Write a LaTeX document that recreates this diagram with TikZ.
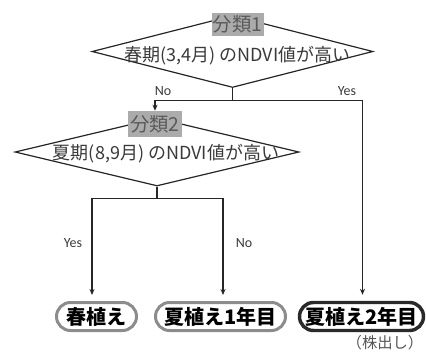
\documentclass[tikz,border=0pt]{standalone}
\usepackage{fontspec}
\setmainfont{Noto Sans CJK JP}
\newfontfamily\latf{Carlito}
\usetikzlibrary{shapes.geometric,arrows.meta,calc}
\definecolor{linec}{HTML}{262626}
\definecolor{taggray}{HTML}{ABABAB}
\definecolor{tagtext}{HTML}{5A5A5A}
\definecolor{condtext}{HTML}{3A3A3A}
\definecolor{resgray}{HTML}{8C8C8C}
\definecolor{resdark}{HTML}{2A2A2A}
\definecolor{subtext}{HTML}{555555}
\begin{document}
\begin{tikzpicture}[x=0.75pt,y=-0.75pt,
  dia/.style={draw=linec, line width=0.9pt, shape=diamond, inner sep=0pt, fill=white},
  tag/.style={fill=taggray, text=tagtext, inner sep=0pt, font=\fontsize{14.5}{16}\selectfont},
  cond/.style={text=condtext, inner sep=0pt, font=\fontsize{13.5}{15}\selectfont},
  res/.style={draw=resgray, line width=2.25pt, rounded corners=10.5pt, minimum height=21pt, inner sep=0pt, fill=white, font=\bfseries\fontsize{15}{17}\selectfont},
  conn/.style={draw=linec, line width=0.9pt},
  arr/.style={conn, -{Stealth[length=4.5pt,width=3.75pt]}},
  yn/.style={text=condtext, inner sep=0pt, font=\latf\fontsize{10.5}{12}\selectfont}]
\useasboundingbox (0,0) rectangle (426,351);
% decisions
\node[dia, minimum width=210.75pt, minimum height=54pt] (d1) at (232.5,51.5) {};
\node[cond] (t1) at (237.5,56) {春期(3,4月) のNDVI値が高い};
\node[tag, minimum width=39pt, minimum height=17.25pt] (lab1) at (237.5,24) {分類1};
\node[dia, minimum width=213pt, minimum height=51pt] (d2) at (157,152) {};
\node[cond] (t2) at (166,154) {夏期(8,9月) のNDVI値が高い};
\node[tag, minimum width=40.5pt, minimum height=19.5pt] (lab2) at (155,124) {分類2};
% results
\node[res, minimum width=60pt] (b1) at (96.5,316.5) {春植え};
\node[res, minimum width=97.5pt] (b2) at (220.5,316.5) {夏植え1年目};
\node[res, draw=resdark, line width=2.6pt, minimum width=93pt] (b3) at (361.5,316.5) {夏植え2年目};
\node[text=subtext, inner sep=0pt, font=\fontsize{11.5}{13}\selectfont] (sub) at (385,343) {（株出し）};
% connectors
\coordinate (j1) at ($(d1.south)+(0,12)$);
\coordinate (j2) at ($(d2.south)+(0,12)$);
\draw[conn] (d1.south) -- (j1);
\draw[arr] (j1) -| (lab2.north);
\draw[arr, shorten >=4.5pt] (j1) -| ($(b3.north)+(1,0)$);
\draw[conn] (d2.south) -- (j2);
\draw[arr, shorten >=4.5pt] (j2) -| ($(b1.north)+(-4.5,0)$);
\draw[arr, shorten >=4.5pt] (j2) -| ($(b2.north)+(2.5,0)$);
% branch labels
\node[yn] (no1) at (163,91) {No};
\node[yn] (yes1) at (347,91) {Yes};
\node[yn] (yes2) at (73,243) {Yes};
\node[yn] (no2) at (244,243) {No};
\end{tikzpicture}
\end{document}
